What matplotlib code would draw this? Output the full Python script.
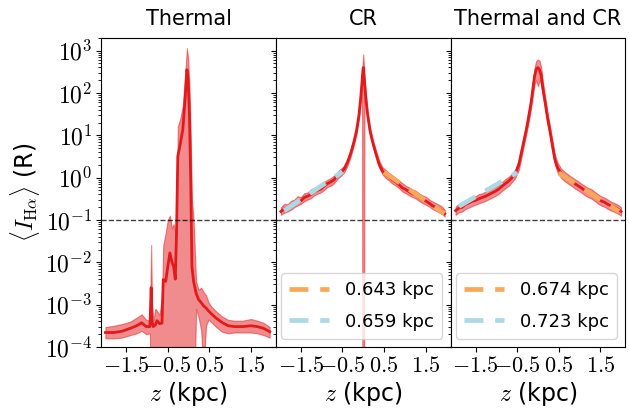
#! /usr/bin/env python

import numpy as np
import matplotlib
matplotlib.use('Agg')
import matplotlib.pyplot as plt
from matplotlib.ticker import FuncFormatter, LogLocator, NullFormatter

# Mean H-alpha intensity profiles vs height z for three runs,
# with exponential fits (scale heights in legend) for the CR runs.


#=====================================================================
#     Data (log10 of <I_Ha> in R)
#
titles = ['Thermal', 'CR', 'Thermal and CR']

z_th  = [-2.0, -1.8, -1.6, -1.4, -1.25, -1.13, -1.02, -0.93, -0.9, -0.88, -0.85, -0.8,
         -0.76, -0.7, -0.64, -0.61, -0.55, -0.5, -0.45, -0.4, -0.36, -0.32, -0.29, -0.26,
         -0.2, -0.14, -0.08, -0.04, -0.01, 0.02, 0.05, 0.08, 0.12, 0.18, 0.24, 0.3, 0.36,
         0.42, 0.48, 0.55, 0.65, 0.8, 0.95, 1.1, 1.3, 1.5, 1.65, 1.8, 1.95]
th_mid = [-3.66, -3.66, -3.63, -3.56, -3.50, -3.43, -3.52, -3.52, -2.60, -3.40, -3.52, -3.48,
          -3.38, -3.45, -3.44, -2.41, -2.45, -2.10, -1.78, -2.00, -2.10, -2.40, -1.30, 0.50,
          0.80, 1.13, 1.90, 2.55, 2.30, 1.50, 0.00, -2.10, -2.45, -2.73, -2.88, -2.95, -3.03,
          -3.08, -3.15, -3.22, -3.31, -3.42, -3.50, -3.52, -3.52, -3.50, -3.52, -3.56, -3.64]
th_hi  = [-3.53, -3.50, -3.46, -3.40, -3.31, -3.23, -3.36, -3.38, -1.59, -3.00, -3.38, -3.10,
          -3.15, -3.25, -2.80, -1.60, -1.30, -1.00, -0.90, -1.20, -1.10, -1.30, -1.00, 1.20,
          1.40, 1.70, 2.50, 3.06, 2.80, 2.20, 1.00, -0.50, -1.00, -2.45, -2.65, -2.60, -2.70,
          -2.78, -2.95, -3.05, -3.15, -3.28, -3.36, -3.38, -3.38, -3.34, -3.38, -3.43, -3.53]
th_lo  = [-3.80, -3.80, -3.78, -3.72, -3.68, -3.62, -3.70, -3.68, -6.0, -6.0, -6.0, -6.0,
          -6.0, -6.0, -6.0, -6.0, -6.0, -6.0, -6.0, -6.0, -6.0, -6.0, -6.0, -6.0,
          -6.0, -6.0, -6.0, -6.0, -6.0, -6.0, -6.0, -6.0, -6.0, -3.10, -3.30, -3.60, -4.50,
          -3.50, -3.35, -3.42, -3.52, -3.64, -3.68, -3.66, -3.66, -3.66, -3.68, -3.72, -3.78]

z_cr  = [-1.98, -1.9, -1.82, -1.74, -1.66, -1.58, -1.5, -1.42, -1.34, -1.26, -1.18, -1.1,
         -1.02, -0.94, -0.86, -0.78, -0.7, -0.62, -0.54, -0.46, -0.38, -0.3, -0.22, -0.16,
         -0.1, -0.06, -0.03, -0.02, 0.0, 0.02, 0.03, 0.06, 0.1, 0.16, 0.22, 0.3, 0.38, 0.46,
         0.54, 0.62, 0.7, 0.78, 0.86, 0.94, 1.02, 1.1, 1.18, 1.26, 1.34, 1.42, 1.5, 1.58,
         1.66, 1.74, 1.82, 1.9, 1.96]
cr_mid = [-0.80, -0.74, -0.72, -0.66, -0.62, -0.57, -0.55, -0.47, -0.44, -0.40, -0.33, -0.30,
          -0.27, -0.20, -0.14, -0.10, -0.05, 0.06, 0.12, 0.20, 0.36, 0.58, 0.86, 1.12,
          1.50, 1.90, 2.25, 2.40, 2.60, 2.40, 2.25, 1.90, 1.52, 1.12, 0.86, 0.58, 0.32, 0.16,
          0.08, 0.02, -0.05, -0.10, -0.17, -0.24, -0.28, -0.33, -0.38, -0.40, -0.47, -0.52,
          -0.55, -0.60, -0.66, -0.70, -0.74, -0.78, -0.85]
cr_hi  = [-0.70, -0.62, -0.63, -0.55, -0.52, -0.44, -0.46, -0.37, -0.35, -0.28, -0.24, -0.20,
          -0.18, -0.10, -0.05, -0.01, 0.05, 0.14, 0.21, 0.28, 0.44, 0.66, 0.94, 1.20,
          1.60, 2.02, 2.40, 2.60, 2.91, 2.60, 2.40, 2.02, 1.60, 1.20, 0.94, 0.66, 0.41, 0.25,
          0.18, 0.11, 0.05, -0.01, -0.07, -0.13, -0.19, -0.23, -0.28, -0.31, -0.37, -0.42,
          -0.45, -0.51, -0.56, -0.60, -0.64, -0.69, -0.76]
cr_lo  = [-0.88, -0.83, -0.80, -0.76, -0.70, -0.66, -0.62, -0.56, -0.52, -0.49, -0.42, -0.38,
          -0.35, -0.29, -0.22, -0.19, -0.13, -0.03, 0.04, 0.12, 0.28, 0.50, 0.78, 1.04,
          1.40, 1.80, 2.12, -6.0, -6.0, -6.0, 2.12, 1.80, 1.42, 1.04, 0.78, 0.50, 0.24, 0.08,
          -0.01, -0.07, -0.14, -0.19, -0.25, -0.33, -0.37, -0.42, -0.46, -0.49, -0.55, -0.60,
          -0.64, -0.68, -0.74, -0.78, -0.82, -0.86, -0.92]

z_tc  = [-1.98, -1.9, -1.82, -1.74, -1.66, -1.58, -1.5, -1.42, -1.34, -1.26, -1.18, -1.1,
         -1.02, -0.94, -0.86, -0.78, -0.7, -0.62, -0.54, -0.46, -0.4, -0.34, -0.28, -0.22,
         -0.16, -0.12, -0.08, -0.04, 0.0, 0.04, 0.08, 0.12, 0.17, 0.23, 0.29, 0.35, 0.41,
         0.48, 0.56, 0.64, 0.72, 0.8, 0.88, 0.96, 1.04, 1.12, 1.2, 1.28, 1.36, 1.44, 1.52,
         1.6, 1.68, 1.76, 1.84, 1.92, 2.0]
tc_mid = [-0.78, -0.72, -0.70, -0.63, -0.60, -0.56, -0.54, -0.50, -0.47, -0.44, -0.40, -0.36,
          -0.32, -0.27, -0.20, -0.14, -0.08, 0.00, 0.10, 0.30, 0.58, 0.85, 1.13, 1.45,
          1.80, 2.10, 2.40, 2.56, 2.60, 2.55, 2.40, 2.10, 1.80, 1.42, 1.10, 0.75, 0.42,
          0.22, 0.10, 0.03, -0.03, -0.08, -0.14, -0.19, -0.24, -0.30, -0.35, -0.38, -0.44,
          -0.50, -0.55, -0.58, -0.63, -0.67, -0.70, -0.74, -0.80]
tc_hi  = [-0.68, -0.62, -0.60, -0.53, -0.49, -0.45, -0.44, -0.39, -0.37, -0.33, -0.30, -0.25,
          -0.22, -0.16, -0.10, -0.03, 0.02, 0.10, 0.20, 0.42, 0.70, 0.96, 1.24, 1.58,
          1.94, 2.28, 2.60, 2.76, 2.79, 2.76, 2.60, 2.28, 1.94, 1.56, 1.22, 0.88, 0.54,
          0.34, 0.21, 0.14, 0.08, 0.02, -0.03, -0.08, -0.14, -0.19, -0.24, -0.27, -0.33,
          -0.39, -0.44, -0.47, -0.52, -0.57, -0.60, -0.64, -0.70]
tc_lo  = [-0.88, -0.82, -0.80, -0.74, -0.71, -0.67, -0.64, -0.61, -0.58, -0.55, -0.51, -0.47,
          -0.43, -0.38, -0.31, -0.25, -0.19, -0.10, 0.00, 0.18, 0.46, 0.74, 1.02, 1.32,
          1.66, 1.94, 2.20, 2.30, 2.16, 2.30, 2.20, 1.94, 1.66, 1.28, 0.98, 0.62, 0.30,
          0.10, -0.01, -0.08, -0.14, -0.19, -0.25, -0.30, -0.35, -0.41, -0.46, -0.49, -0.55,
          -0.61, -0.66, -0.69, -0.74, -0.78, -0.81, -0.85, -0.90]

# Exponential fits: end points (z, log10 I) and scale heights (kpc)
fit_z_pos   = [0.5, 1.95]
fit_z_neg   = [-1.9, -0.5]
cr_fit_pos  = [0.13, -0.85]
cr_fit_neg  = [-0.78, 0.14]
tc_fit_pos  = [0.11, -0.80]
tc_fit_neg  = [-0.68, 0.12]
cr_h        = [0.643, 0.659]
tc_h        = [0.674, 0.723]

threshold   = 0.1
xticks      = [-1.5, -0.5, 0.5, 1.5]
#=====================================================================


#=====================================================================
#     Plotting
#
plt.rcParams['mathtext.fontset'] = 'cm'

red    = '#e31a1c'
orange = '#f9a85a'
blue   = 'lightblue'
dash   = (0, (4, 2.5))

fig, axes = plt.subplots(1, 3, sharey=True, figsize=(6.29, 4.12), dpi=100)
fig.subplots_adjust(left=0.161, right=0.994, bottom=0.158, top=0.908, wspace=0)

profiles = [(z_th, th_mid, th_lo, th_hi),
            (z_cr, cr_mid, cr_lo, cr_hi),
            (z_tc, tc_mid, tc_lo, tc_hi)]
fits = [None,
        (cr_fit_pos, cr_fit_neg, cr_h),
        (tc_fit_pos, tc_fit_neg, tc_h)]

for ax, title, prof, fit in zip(axes, titles, profiles, fits):
    z, mid, lo, hi = prof
    ax.fill_between(z, 10.0**np.array(lo), 10.0**np.array(hi),
                    color=red, alpha=0.5, linewidth=0.8)
    ax.plot(z, 10.0**np.array(mid), color=red, lw=2.0)
    ax.axhline(threshold, color='k', ls='--', lw=1.0, alpha=0.75)

    if fit is not None:
        pos, neg, h = fit
        ax.plot(fit_z_pos, 10.0**np.array(pos), color=orange, lw=3.4, ls=dash,
                label='%.3f kpc' % h[0], zorder=5)
        ax.plot(fit_z_neg, 10.0**np.array(neg), color=blue, lw=3.4, ls=dash,
                label='%.3f kpc' % h[1], zorder=5)
        ax.legend(loc='lower right', fontsize=13, handlelength=2.2,
                  handletextpad=0.9, borderaxespad=0.45, labelspacing=0.75,
                  borderpad=0.45)

    ax.set_title(title, fontsize=15, pad=9)
    ax.set_yscale('log')
    ax.set_ylim(1e-4, 2e3)
    ax.set_xlim(-2.1, 2.1)
    ax.set_xticks(xticks)
    ax.xaxis.set_major_formatter(FuncFormatter(lambda v, p: '$%.1f$' % v))
    ax.yaxis.set_major_locator(LogLocator(base=10, numticks=20))
    ax.yaxis.set_minor_locator(LogLocator(base=10, subs=np.arange(2, 10), numticks=100))
    ax.yaxis.set_minor_formatter(NullFormatter())
    ax.yaxis.set_major_formatter(FuncFormatter(lambda v, p: '$10^{%d}$' % round(np.log10(v))))
    ax.tick_params(axis='y', which='major', labelsize=17, pad=3)
    ax.tick_params(axis='x', which='major', labelsize=16, pad=3)
    ax.set_xlabel('$z$ (kpc)', fontsize=17, labelpad=3)

axes[0].set_ylabel(r'$\langle I_{\mathrm{H}\alpha} \rangle$ (R)', fontsize=17, labelpad=2)

plt.savefig('out.png', dpi=100)
# plt.show()
